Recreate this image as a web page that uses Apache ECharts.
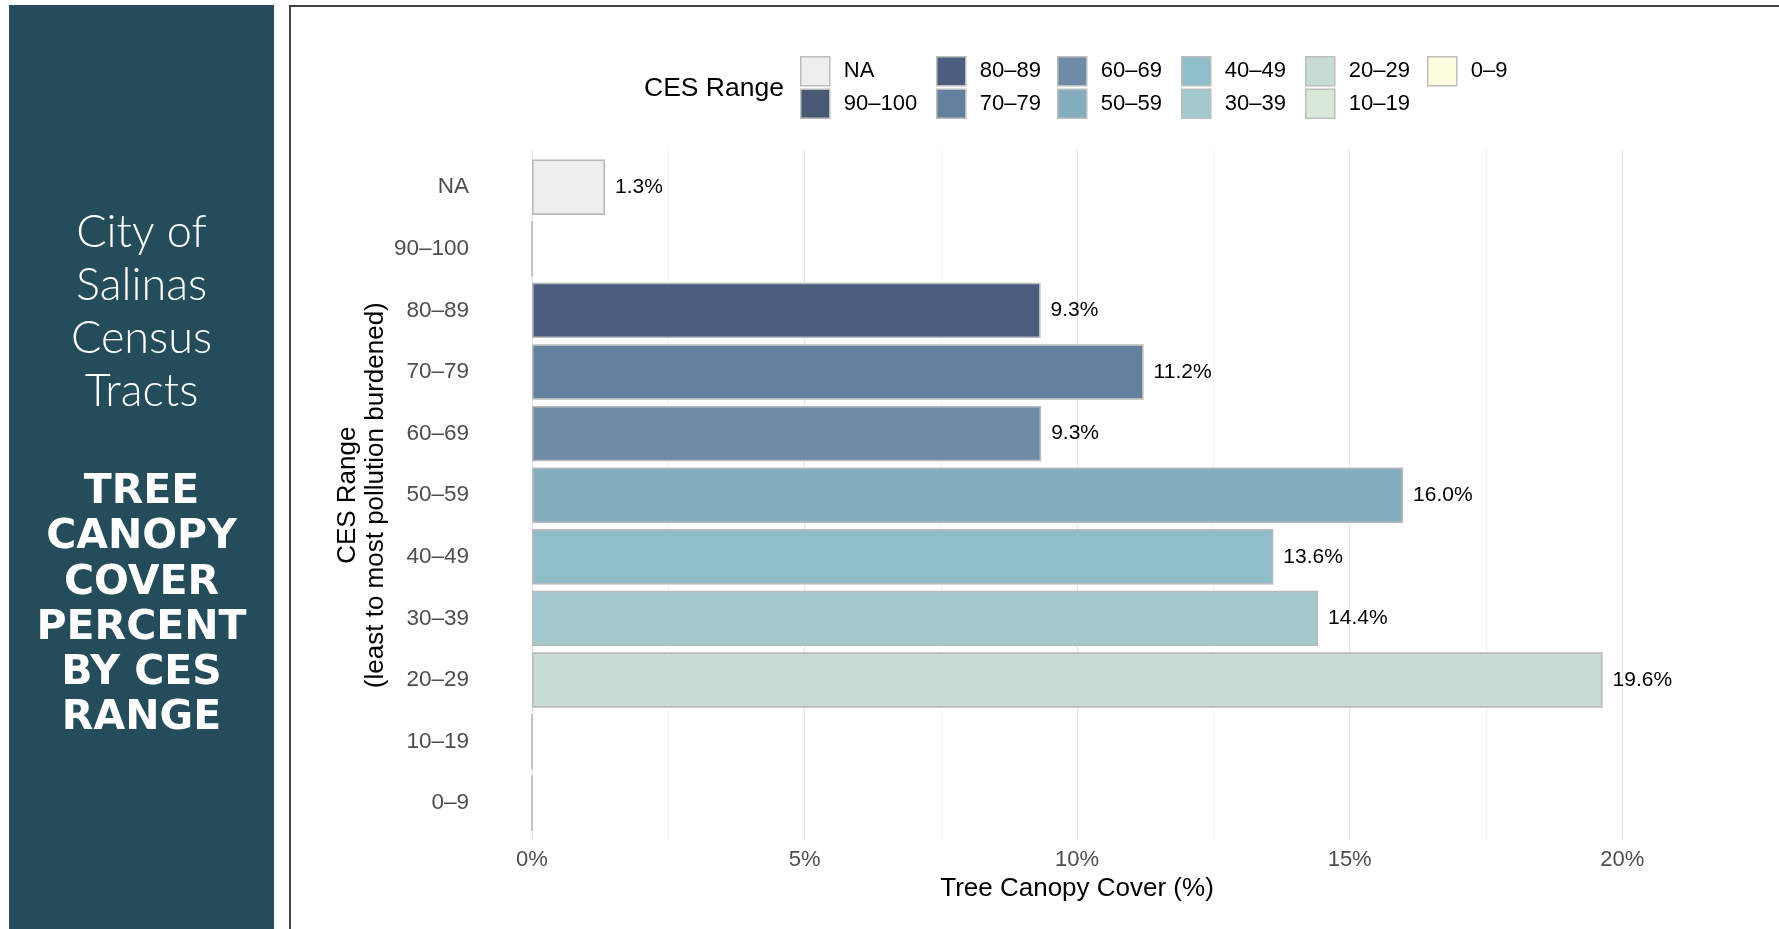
<!DOCTYPE html>
<html>
<head>
<meta charset="utf-8">
<script src="https://cdn.jsdelivr.net/npm/echarts@6/dist/echarts.min.js"></script>
<style>
html,body{margin:0;padding:0;background:#fff;}
#chart{width:1779px;height:929px;}
</style>
</head>
<body>
<div id="chart"></div>
<script>
// ---- data ----
const categories = ['NA', '90–100', '80–89', '70–79', '60–69', '50–59', '40–49', '30–39', '20–29', '10–19', '0–9'];
const canopyPct = [1.34, 0, 9.33, 11.22, 9.34, 15.98, 13.6, 14.42, 19.64, 0, 0];
const rangeColors = ['#eeeeee', '#485a73', '#4b5e80', '#627f9b', '#6e8ca6', '#84adbd', '#8fbdc9', '#a3c8cd', '#c6dcd4', '#d9e8d8', '#fefde0'];
const legendColumns = [['NA', '90–100'], ['80–89', '70–79'], ['60–69', '50–59'], ['40–49', '30–39'], ['20–29', '10–19'], ['0–9']];
const xTickStep = 2.5;
const xMax = 21.06;

const FONT = '"Liberation Sans", Arial, Helvetica, sans-serif';
const chart = echarts.init(document.getElementById('chart'), null, {renderer: 'canvas'});

const series = categories.map((name, i) => ({
  name: name,
  type: 'bar',
  stack: 'all',
  barWidth: '90%',
  xAxisIndex: 0,
  yAxisIndex: 0,
  data: categories.map((c, j) => (j === i ? canopyPct[i] : '-')),
  itemStyle: {color: rangeColors[i], borderColor: '#bababa', borderWidth: 1.6},
  label: {
    show: true,
    position: 'right',
    distance: 10,
    fontFamily: FONT,
    fontSize: 21,
    color: '#000',
    formatter: p => (p.value > 0 ? p.value.toFixed(1) + '%' : '')
  },
  emphasis: {disabled: true},
  silent: true
}));

const legendLefts = [800, 936, 1057, 1181, 1305, 1427];
const legends = legendColumns.map((col, k) => ({
  orient: 'vertical',
  left: legendLefts[k],
  top: 56,
  padding: 0,
  itemWidth: 29,
  itemHeight: 29,
  itemGap: 2,
  selectedMode: false,
  icon: 'rect',
  data: col,
  itemStyle: {borderColor: '#bdbdbd', borderWidth: 1.5},
  textStyle: {fontFamily: FONT, fontSize: 22, lineHeight: 24, color: '#000', padding: [0, 0, 0, 9]}
}));

const option = {
  backgroundColor: '#fff',
  animation: false,
  graphic: [
    {type: 'rect', left: 9, top: 5, shape: {width: 265, height: 930}, style: {fill: '#244c5b'}, z: 0},
    {type: 'rect', shape: {x: 290, y: 6, width: 1600, height: 1000}, style: {fill: null, stroke: '#444', lineWidth: 2}, z: 0},
    {type: 'text', x: 141.5, y: 312, style: {text: 'City of\nSalinas\nCensus\nTracts', fill: '#fff', font: '300 45px Lato, "Open Sans", sans-serif', lineHeight: 53, align: 'center', verticalAlign: 'middle'}, z: 1},
    {type: 'text', x: 141.5, y: 605.5, style: {text: 'TREE\nCANOPY\nCOVER\nPERCENT\nBY CES\nRANGE', fill: '#fff', font: 'bold 41px "DejaVu Sans", sans-serif', lineHeight: 45.2, align: 'center', verticalAlign: 'middle'}, z: 1},
    {type: 'text', x: 644, y: 88.5, style: {text: 'CES Range', fill: '#000', font: '26.5px ' + FONT, align: 'left', verticalAlign: 'middle'}, z: 1}
  ],
  legend: legends,
  grid: [
    {left: 532, right: 99, top: 156.4, bottom: 929 - 834, containLabel: false},
    {left: 532, right: 99, top: 150, bottom: 929 - 840, containLabel: false}
  ],
  xAxis: [{
    type: 'value',
    gridIndex: 0,
    min: 0,
    max: xMax,
    interval: xTickStep,
    axisLine: {show: false},
    axisTick: {show: false},
    axisLabel: {
      fontFamily: FONT, fontSize: 22, color: '#4d4d4d', margin: 15,
      formatter: v => (Math.abs(v % 5) < 1e-9 ? v + '%' : ''),
      showMaxLabel: false
    },
    splitLine: {show: false},
    name: 'Tree Canopy Cover (%)',
    nameLocation: 'middle',
    nameGap: 38,
    nameTextStyle: {fontFamily: FONT, fontSize: 26, color: '#000', padding: [0, 58, 0, 0]}
  }, {
    type: 'value',
    gridIndex: 1,
    min: 0,
    max: xMax,
    interval: xTickStep,
    axisLine: {show: false},
    axisTick: {show: false},
    axisLabel: {show: false},
    splitLine: {show: true, showMaxLine: false, lineStyle: {color: ['#e6e6e6', '#f3f3f3'], width: 1.3}},
    z: -1
  }],
  yAxis: [{
    type: 'category',
    gridIndex: 0,
    inverse: true,
    data: categories,
    axisLine: {show: false},
    axisTick: {show: false},
    splitLine: {show: false},
    axisLabel: {fontFamily: FONT, fontSize: 22.5, color: '#4d4d4d', margin: 63},
    name: 'CES Range\n(least to most pollution burdened)',
    nameLocation: 'middle',
    nameRotate: 90,
    nameGap: 142,
    nameMoveOverlap: false,
    nameTextStyle: {fontFamily: FONT, fontSize: 26, color: '#000', lineHeight: 28}
  }, {
    type: 'value',
    gridIndex: 1,
    min: 0,
    max: 1,
    show: false
  }],
  series: series
};
chart.setOption(option);
</script>
</body>
</html>
